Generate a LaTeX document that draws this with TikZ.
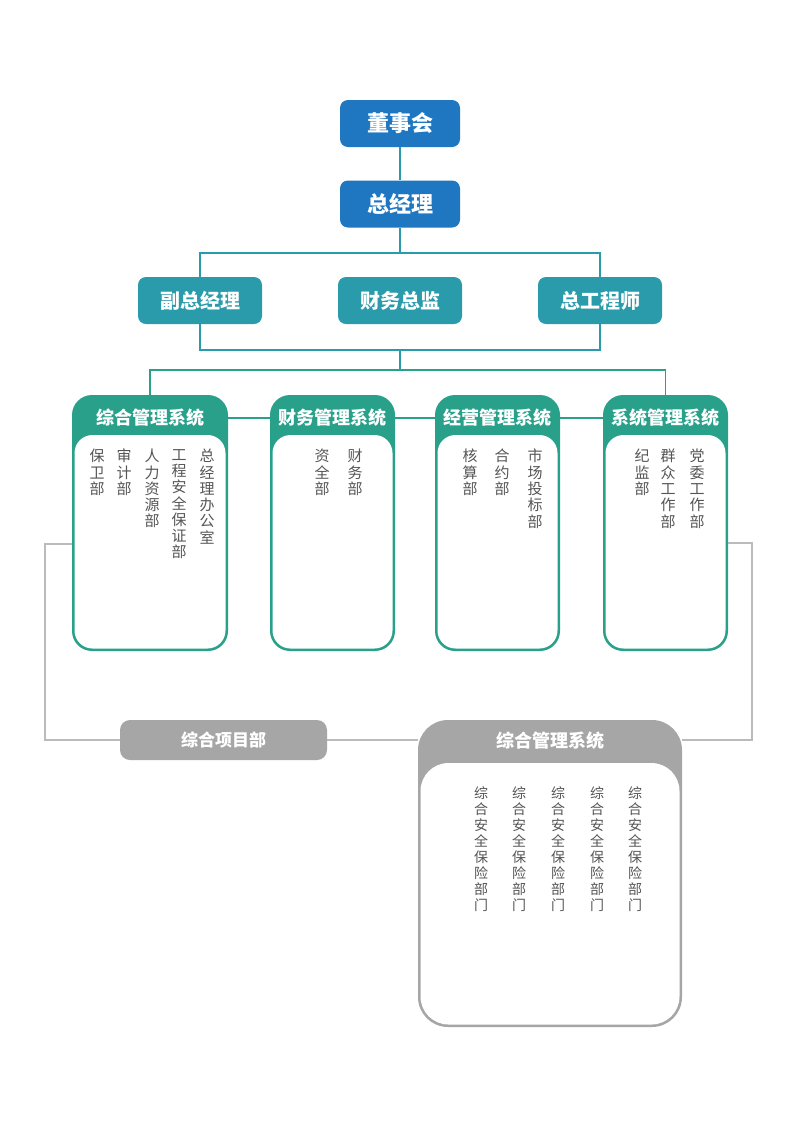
\documentclass[tikz,border=0pt]{standalone}
\usepackage{fontspec}
\setmainfont{Noto Sans CJK SC}
\definecolor{cblue}{HTML}{1F76C1}
\definecolor{cteal}{HTML}{2A9BAB}
\definecolor{cgreen}{HTML}{29A08A}
\definecolor{cgrayf}{HTML}{A6A6A6}
\definecolor{cgrayl}{HTML}{BBBBBB}
\definecolor{txtgray}{HTML}{555555}
\tikzset{
  topbox/.style={fill=cblue, rounded corners=8pt, minimum width=120pt, minimum height=47pt, text=white, font=\fontsize{22}{24}\selectfont\bfseries, inner sep=0},
  midbox/.style={fill=cteal, rounded corners=8pt, minimum width=124pt, minimum height=47pt, text=white, font=\fontsize{20}{22}\selectfont\bfseries, inner sep=0},
  syshead/.style={minimum height=46pt, inner sep=0, text=white, font=\fontsize{18}{20}\selectfont\bfseries},
  vt/.style={anchor=north, align=center, inner sep=0, font=\fontsize{15}{16.3}\selectfont, text=txtgray},
  vtg/.style={anchor=north, align=center, inner sep=0, font=\fontsize{14}{16}\selectfont, text=txtgray},
  tline/.style={draw=cteal, line width=1.8pt},
  gline/.style={draw=cgreen, line width=1.8pt},
  grline/.style={draw=cgrayl, line width=1.6pt},
}
\begin{document}
\begin{tikzpicture}[x=1pt,y=-1pt]
\useasboundingbox[fill=white] (0,0) rectangle (800,1130);
% top levels
\node[topbox] (dsh) at (400,123.5) {董事会};
\node[topbox] (zjl) at (400,204) {总经理};
\node[midbox] (fz) at (200,300.5) {副总经理};
\node[midbox] (cwzj) at (400,300.5) {财务总监};
\node[midbox] (zgcs) at (600,300.5) {总工程师};
\coordinate (j1) at (400,253);
\coordinate (j2) at (400,350);
\coordinate (j3) at (400,370);
% system boxes bodies
\foreach \l/\r in {72/228, 270/395, 435/560, 603/728}{
  \fill[cgreen, rounded corners=20pt] (\l,395) rectangle (\r,651);
  \fill[white, rounded corners=18pt] (\l+2.5,435) rectangle (\r-2.5,648.5);
}
\node[syshead, minimum width=156pt] (sysA) at (150,418) {综合管理系统};
\node[syshead, minimum width=125pt] (sysB) at (332.5,418) {财务管理系统};
\node[syshead, minimum width=125pt] (sysC) at (497.5,418) {经营管理系统};
\node[syshead, minimum width=125pt] (sysD) at (665.5,418) {系统管理系统};
% columns
\node[vt] (a1) at (97,449) {保\\卫\\部};
\node[vt] (a2) at (124,449) {审\\计\\部};
\node[vt] (a3) at (152,449) {人\\力\\资\\源\\部};
\node[vt] (a4) at (179,449) {工\\程\\安\\全\\保\\证\\部};
\node[vt] (a5) at (207,449) {总\\经\\理\\办\\公\\室};
\node[vt] (b1) at (322,449) {资\\全\\部};
\node[vt] (b2) at (355,449) {财\\务\\部};
\node[vt] (c1) at (470,449) {核\\算\\部};
\node[vt] (c2) at (502,449) {合\\约\\部};
\node[vt] (c3) at (535,449) {市\\场\\投\\标\\部};
\node[vt] (d1) at (642,449) {纪\\监\\部};
\node[vt] (d2) at (668,449) {群\\众\\工\\作\\部};
\node[vt] (d3) at (697,449) {党\\委\\工\\作\\部};
% lower gray part
\node[fill=cgrayf, rounded corners=10pt, minimum width=207pt, minimum height=40pt, inner sep=0, text=white, font=\fontsize{17}{19}\selectfont\bfseries] (proj) at (223.5,740) {综合项目部};
\fill[cgrayf, rounded corners=30pt] (418,720) rectangle (682,1027);
\fill[white, rounded corners=28pt] (420.5,763) rectangle (679.5,1024.5);
\node[syshead, minimum width=264pt, minimum height=40pt] (gsys) at (550,741) {综合管理系统};
\foreach \x/\n in {481/g1, 519/g2, 558/g3, 597/g4, 635/g5}{
  \node[vtg] (\n) at (\x,786) {综\\合\\安\\全\\保\\险\\部\\门};
}
\coordinate (la) at (72,544);
\coordinate (ld) at (728,543);
% connectors
\draw[tline] (dsh) -- (zjl);
\draw[tline] (zjl) -- (j1);
\draw[tline] (fz.north) -- ++(0,-24) -| (zgcs.north);
\draw[tline] (fz.south) -- ++(0,26) -| (zgcs.south);
\draw[tline] (j2) -- (j3);
\draw[gline] (sysA.north) -- ++(0,-25) -| (sysD.north);
\draw[gline] (sysA.east) -- (sysB.west);
\draw[gline] (sysB.east) -- (sysC.west);
\draw[gline] (sysC.east) -- (sysD.west);
\draw[grline] (la) -- (45,544) |- (proj.west);
\draw[grline] (proj.east) -- (proj.east -| gsys.west);
\draw[grline] (ld) -- (752,543) |- (proj.east -| gsys.east);
\end{tikzpicture}
\end{document}
